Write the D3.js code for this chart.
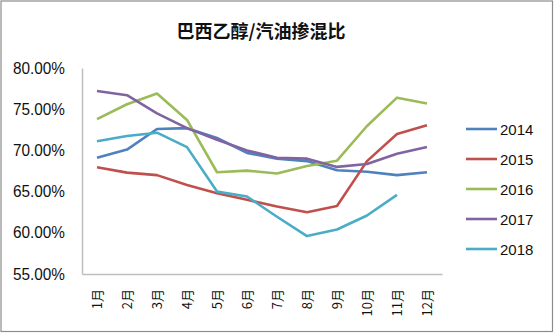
<!DOCTYPE html>
<html>
<head>
<meta charset="utf-8">
<script src="https://cdn.jsdelivr.net/npm/d3@7"></script>
<style>
  html, body { margin: 0; padding: 0; background: #fff; }
  svg { display: block; }
</style>
</head>
<body>
<div id="chart"></div>
<script>
// Brazil ethanol / gasoline blend ratio by month, 2014–2018 (%)
const months = ["1月","2月","3月","4月","5月","6月","7月","8月","9月","10月","11月","12月"];
const seriesNames = ["2014","2015","2016","2017","2018"];
const colors = ["#4F81BD","#C0504D","#9BBB59","#8064A2","#4BACC6"];
const yTicks = [55, 60, 65, 70, 75, 80];

const s2014 = [69.1, 70.1, 72.6, 72.7, 71.5, 69.7, 69.0, 68.7, 67.6, 67.4, 67.0, 67.35];
const s2015 = [67.95, 67.3, 67.0, 65.8, 64.8, 64.0, 63.2, 62.5, 63.25, 68.7, 72.0, 73.05];
const s2016 = [73.8, 75.6, 76.9, 73.7, 67.35, 67.55, 67.2, 68.1, 68.75, 72.96, 76.4, 75.7];
const s2017 = [77.2, 76.7, 74.5, 72.7, 71.3, 70.0, 69.1, 69.0, 68.0, 68.35, 69.6, 70.4];
const s2018 = [71.1, 71.75, 72.15, 70.4, 65.0, 64.4, 61.95, 59.6, 60.4, 62.1, 64.6, null];
const seriesValues = [s2014, s2015, s2016, s2017, s2018];

const W = 554, H = 334;
const plot = { left: 82, right: 442, top: 68, bottom: 274 };

const svg = d3.select("#chart").append("svg")
  .attr("width", W).attr("height", H);

// outer frame
svg.append("rect")
  .attr("x", 1).attr("y", 1).attr("width", W - 2.5).attr("height", H - 3.5)
  .attr("fill", "#fff").attr("stroke", "#8c8c8c").attr("stroke-width", 1.2);

// title
svg.append("text")
  .attr("x", 261).attr("y", 38)
  .attr("text-anchor", "middle")
  .attr("font-family", "'Noto Sans CJK SC', sans-serif")
  .attr("font-weight", "bold")
  .attr("font-size", 18)
  .attr("fill", "#111")
  .text("巴西乙醇/汽油掺混比");

const x = d3.scaleBand().domain(months).range([plot.left, plot.right]);
const y = d3.scaleLinear().domain([55, 80]).range([plot.bottom, plot.top]);

// y axis
const yAxis = svg.append("g")
  .attr("transform", `translate(${plot.left},0)`)
  .call(d3.axisLeft(y).tickValues(yTicks).tickSize(0).tickPadding(17)
    .tickFormat(d => d.toFixed(2) + "%"));
yAxis.select(".domain").attr("stroke", "#bfbfbf").attr("stroke-width", 1.5);
yAxis.selectAll("text")
  .attr("font-family", "'Liberation Sans', Arial, sans-serif")
  .attr("font-size", 16)
  .attr("textLength", 52)
  .attr("lengthAdjust", "spacingAndGlyphs")
  .attr("fill", "#111");

// x axis
const xAxis = svg.append("g")
  .attr("transform", `translate(0,${plot.bottom})`)
  .call(d3.axisBottom(x).tickSize(0).tickPadding(0));
xAxis.select(".domain").attr("stroke", "#bfbfbf").attr("stroke-width", 1.5);
xAxis.selectAll("text")
  .attr("font-family", "'Noto Sans CJK SC', sans-serif")
  .attr("font-size", 13)
  .attr("fill", "#111")
  .attr("text-anchor", "end")
  .attr("dy", null)
  .attr("transform", "translate(4.5,15) rotate(-90)");

// series lines
const line = d3.line()
  .defined(d => d != null)
  .x((d, i) => x(months[i]) + x.bandwidth() / 2)
  .y(d => y(d));

svg.append("g").selectAll("path")
  .data(seriesValues)
  .join("path")
  .attr("d", line)
  .attr("fill", "none")
  .attr("stroke", (d, i) => colors[i])
  .attr("stroke-width", 2.6)
  .attr("stroke-linejoin", "round");

// legend
const legend = svg.append("g").selectAll("g")
  .data(seriesNames)
  .join("g")
  .attr("transform", (d, i) => `translate(466,${129 + i * 30})`);
legend.append("line")
  .attr("x1", 0).attr("x2", 31)
  .attr("stroke", (d, i) => colors[i])
  .attr("stroke-width", 2.6);
legend.append("text")
  .attr("x", 34).attr("y", 5.5)
  .attr("font-family", "'Liberation Sans', Arial, sans-serif")
  .attr("font-size", 15)
  .attr("fill", "#111")
  .text(d => d);
</script>
</body>
</html>
